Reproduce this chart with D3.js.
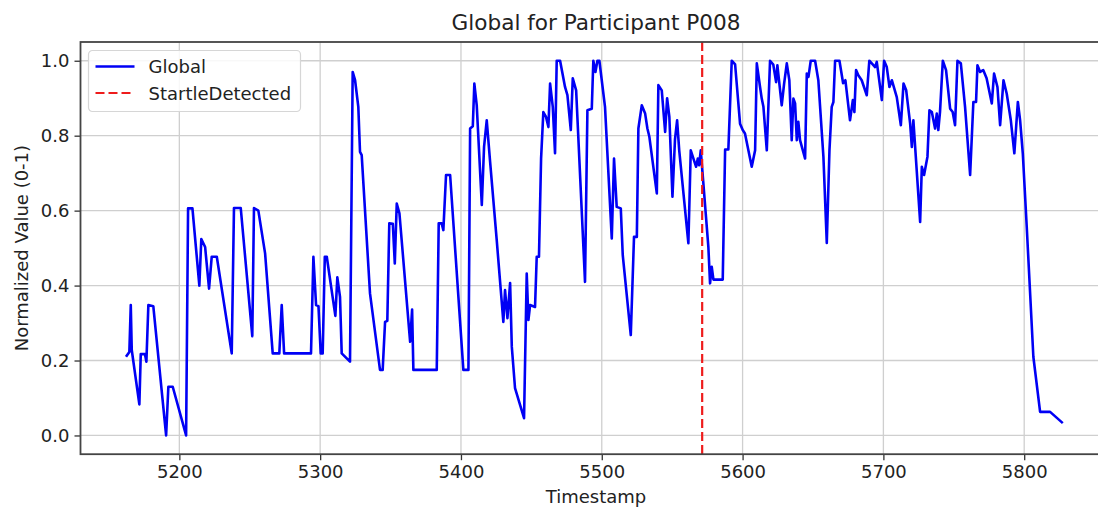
<!DOCTYPE html>
<html>
<head>
<meta charset="utf-8">
<script src="https://cdn.jsdelivr.net/npm/d3@7"></script>
<style>
  html, body { margin: 0; padding: 0; background: #fff; }
  svg { display: block; font-family: "DejaVu Sans", sans-serif; }
</style>
</head>
<body>
<svg id="chart" width="1098" height="510"></svg>
<script>
// Global signal over time for participant P008
const timestamps = [
  5162.1, 5164.5, 5165.5, 5166.2, 5171.6, 5172.6, 5175.6, 5176.6, 5178.0, 5181.5,
  5190.6, 5192.2, 5195.3, 5204.8, 5206.2, 5209.3, 5214.2, 5215.6, 5218.3, 5221.1,
  5223.0, 5226.6, 5237.2, 5238.8, 5243.6, 5251.8, 5253.0, 5256.1, 5260.9, 5266.3,
  5271.0, 5272.7, 5274.4, 5293.5, 5295.2, 5297.1, 5298.8, 5300.4, 5301.8, 5303.3,
  5304.7, 5310.8, 5312.2, 5314.1, 5315.3, 5321.2, 5323.1, 5324.8, 5327.1, 5328.3,
  5329.5, 5335.4, 5342.5, 5344.4, 5346.1, 5347.7, 5349.1, 5351.6, 5353.0, 5354.4,
  5356.3, 5363.9, 5365.3, 5366.2, 5382.8, 5384.2, 5386.3, 5387.5, 5389.4, 5392.3,
  5401.7, 5405.3, 5406.5, 5408.4, 5409.5, 5411.2, 5414.8, 5416.4, 5418.3, 5420.7,
  5425.4, 5430.1, 5431.3, 5433.0, 5434.9, 5436.1, 5438.4, 5444.8, 5446.7, 5447.9,
  5449.1, 5452.6, 5453.8, 5455.4, 5456.9, 5458.5, 5460.4, 5462.1, 5463.3, 5465.2,
  5466.8, 5468.0, 5470.4, 5473.9, 5475.6, 5478.0, 5479.4, 5481.8, 5488.1, 5489.8,
  5492.9, 5494.0, 5495.5, 5496.9, 5498.3, 5502.3, 5507.1, 5508.7, 5510.6, 5513.5,
  5514.9, 5520.6, 5522.9, 5524.9, 5526.0, 5528.4, 5530.8, 5532.4, 5533.8, 5539.1,
  5540.2, 5542.6, 5545.0, 5546.4, 5548.0, 5550.2, 5552.0, 5553.5, 5555.0, 5561.5,
  5563.2, 5565.1, 5567.0, 5568.2, 5569.1, 5570.3, 5575.7, 5576.9, 5578.1, 5579.3,
  5585.9, 5587.6, 5589.9, 5592.3, 5594.7, 5598.2, 5600.1, 5601.7, 5606.5, 5608.9,
  5610.1, 5612.4, 5613.6, 5614.8, 5617.2, 5619.5, 5621.8, 5623.8, 5624.7, 5627.8,
  5629.5, 5631.4, 5633.2, 5634.9, 5636.1, 5637.3, 5638.5, 5639.6, 5640.8, 5644.4,
  5645.6, 5646.8, 5648.4, 5651.5, 5653.8, 5657.4, 5659.8, 5661.7, 5663.3, 5664.5,
  5665.7, 5668.8, 5671.4, 5673.0, 5676.3, 5678.3, 5679.4, 5680.6, 5682.2, 5684.6,
  5688.2, 5690.0, 5692.4, 5694.1, 5695.3, 5698.9, 5700.5, 5702.4, 5704.3, 5706.0,
  5709.5, 5712.4, 5714.3, 5716.2, 5719.0, 5720.2, 5721.3, 5726.1, 5727.3, 5728.9,
  5731.3, 5732.7, 5734.4, 5736.7, 5737.9, 5739.0, 5740.2, 5742.2, 5744.5, 5747.4,
  5749.2, 5750.9, 5752.6, 5755.0, 5758.0, 5761.6, 5763.9, 5765.8, 5766.8, 5768.7,
  5770.9, 5773.3, 5777.0, 5778.6, 5781.0, 5782.9, 5785.3, 5787.6, 5790.5, 5793.0,
  5795.5, 5797.1, 5799.0, 5801.8, 5806.5, 5811.3, 5818.4, 5827.4
];

const globalValues = [
  0.210, 0.223, 0.348, 0.228, 0.083, 0.217, 0.217, 0.197, 0.348, 0.345,
  0.000, 0.130, 0.130, 0.000, 0.606, 0.606, 0.400, 0.524, 0.503, 0.392,
  0.477, 0.477, 0.219, 0.607, 0.607, 0.265, 0.607, 0.600, 0.486, 0.219,
  0.219, 0.348, 0.219, 0.219, 0.477, 0.348, 0.345, 0.219, 0.219, 0.477,
  0.477, 0.319, 0.422, 0.370, 0.219, 0.197, 0.970, 0.948, 0.877, 0.757,
  0.748, 0.379, 0.175, 0.175, 0.303, 0.306, 0.566, 0.565, 0.459, 0.619,
  0.593, 0.250, 0.336, 0.175, 0.175, 0.566, 0.566, 0.548, 0.695, 0.695,
  0.175, 0.175, 0.819, 0.825, 0.939, 0.881, 0.615, 0.770, 0.841, 0.730,
  0.521, 0.303, 0.388, 0.313, 0.407, 0.237, 0.126, 0.046, 0.432, 0.308,
  0.348, 0.343, 0.477, 0.477, 0.739, 0.863, 0.850, 0.823, 0.939, 0.877,
  0.753, 1.000, 1.000, 0.930, 0.908, 0.815, 0.953, 0.921, 0.410, 0.868,
  0.872, 1.000, 0.970, 1.000, 1.000, 0.877, 0.526, 0.739, 0.610, 0.606,
  0.481, 0.268, 0.530, 0.530, 0.819, 0.881, 0.859, 0.819, 0.797, 0.646,
  0.935, 0.921, 0.810, 0.900, 0.850, 0.637, 0.790, 0.841, 0.761, 0.513,
  0.761, 0.739, 0.717, 0.739, 0.721, 0.761, 0.503, 0.406, 0.450, 0.416,
  0.416, 0.763, 0.763, 1.000, 0.990, 0.832, 0.815, 0.806, 0.717, 0.761,
  0.993, 0.930, 0.899, 0.877, 0.761, 1.000, 0.990, 0.943, 0.988, 0.881,
  0.939, 0.993, 0.948, 0.788, 0.899, 0.886, 0.788, 0.837, 0.788, 0.739,
  0.966, 0.957, 1.000, 1.000, 0.948, 0.744, 0.514, 0.761, 0.877, 0.890,
  1.000, 1.000, 0.940, 0.948, 0.841, 0.895, 0.863, 0.975, 0.961, 0.948,
  0.908, 1.000, 0.990, 0.983, 0.997, 0.895, 1.000, 0.983, 0.930, 0.948,
  0.903, 0.828, 0.939, 0.921, 0.832, 0.770, 0.841, 0.570, 0.717, 0.695,
  0.744, 0.868, 0.863, 0.819, 0.859, 0.815, 0.863, 1.000, 0.975, 0.872,
  0.863, 0.828, 1.000, 0.993, 0.877, 0.695, 0.890, 0.890, 0.988, 0.970,
  0.975, 0.953, 0.886, 0.966, 0.930, 0.828, 0.948, 0.912, 0.841, 0.753,
  0.890, 0.841, 0.753, 0.557, 0.210, 0.063, 0.063, 0.033
];

const startleTimestamp = 5571.3;

const xTicks = [5200, 5300, 5400, 5500, 5600, 5700, 5800];
const yTicks = [0.0, 0.2, 0.4, 0.6, 0.8, 1.0];

const chartTitle = "Global for Participant P008";
const xLabel = "Timestamp";
const yLabel = "Normalized Value (0-1)";
const legendLabels = ["Global", "StartleDetected"];

// ---- layout ----
const plot = { left: 80.5, right: 1111.5, top: 42, bottom: 454.2 };
const fontSize = 18;

const svg = d3.select("#chart");

const x = d3.scaleLinear().domain([5129.8, 5862]).range([plot.left, plot.right]);
const y = d3.scaleLinear().domain([-0.05, 1.05]).range([plot.bottom, plot.top]);

svg.append("defs").append("clipPath").attr("id", "plot-clip")
  .append("rect")
  .attr("x", plot.left).attr("y", plot.top)
  .attr("width", plot.right - plot.left).attr("height", plot.bottom - plot.top);

// grid
const grid = svg.append("g").attr("class", "grid");
grid.selectAll("line.gx").data(xTicks).join("line")
  .attr("x1", d => x(d)).attr("x2", d => x(d))
  .attr("y1", plot.top).attr("y2", plot.bottom)
  .attr("stroke", "#cfcfcf").attr("stroke-width", 1.3);
grid.selectAll("line.gy").data(yTicks).join("line")
  .attr("x1", plot.left).attr("x2", plot.right)
  .attr("y1", d => y(d)).attr("y2", d => y(d))
  .attr("stroke", "#cfcfcf").attr("stroke-width", 1.3);

// data line
const series = timestamps.map((t, i) => [t, globalValues[i]]);
const line = d3.line().x(d => x(d[0])).y(d => y(d[1]));

const marks = svg.append("g").attr("clip-path", "url(#plot-clip)");
marks.append("path")
  .datum(series)
  .attr("d", line)
  .attr("fill", "none")
  .attr("stroke", "#0000f5")
  .attr("stroke-width", 2.6)
  .attr("stroke-linejoin", "round")
  .attr("stroke-linecap", "butt");

// startle marker
marks.append("line")
  .attr("x1", x(startleTimestamp)).attr("x2", x(startleTimestamp))
  .attr("y1", plot.top).attr("y2", plot.bottom)
  .attr("stroke", "#ee1c1c")
  .attr("stroke-width", 2.2)
  .attr("stroke-dasharray", "9,4");

// axes
const xAxis = d3.axisBottom(x).tickValues(xTicks).tickFormat(d3.format("d"))
  .tickSize(6).tickPadding(5);
const yAxis = d3.axisLeft(y).tickValues(yTicks).tickFormat(d3.format(".1f"))
  .tickSize(6).tickPadding(5);

const gx = svg.append("g").attr("transform", `translate(0,${plot.bottom})`).call(xAxis);
const gy = svg.append("g").attr("transform", `translate(${plot.left},0)`).call(yAxis);
[gx, gy].forEach(g => {
  g.select(".domain").remove();
  g.selectAll(".tick line").attr("stroke", "#333").attr("stroke-width", 1.3);
  g.selectAll(".tick text")
    .attr("fill", "#222")
    .style("font-family", "DejaVu Sans")
    .style("font-size", fontSize + "px");
});

// spines
svg.append("rect")
  .attr("x", plot.left).attr("y", plot.top)
  .attr("width", plot.right - plot.left).attr("height", plot.bottom - plot.top)
  .attr("fill", "none").attr("stroke", "#444").attr("stroke-width", 1.8);

// title and labels
svg.append("text")
  .attr("x", (plot.left + plot.right) / 2).attr("y", 30)
  .attr("text-anchor", "middle")
  .attr("fill", "#222")
  .style("font-size", (fontSize * 1.2) + "px")
  .text(chartTitle);

svg.append("text")
  .attr("x", (plot.left + plot.right) / 2).attr("y", 503)
  .attr("text-anchor", "middle")
  .attr("fill", "#222")
  .style("font-size", fontSize + "px")
  .text(xLabel);

svg.append("text")
  .attr("transform", `translate(28,${(plot.top + plot.bottom) / 2}) rotate(-90)`)
  .attr("text-anchor", "middle")
  .attr("fill", "#222")
  .style("font-size", fontSize + "px")
  .text(yLabel);

// legend
const legend = svg.append("g").attr("transform", "translate(88.5,50.5)");
legend.append("rect")
  .attr("width", 212).attr("height", 61).attr("rx", 4)
  .attr("fill", "#fff").attr("fill-opacity", 0.85)
  .attr("stroke", "#d6d6d6").attr("stroke-width", 1.2);

const legendStyles = [
  { color: "#0000f5", dash: null, width: 2.6 },
  { color: "#ee1c1c", dash: "9,4", width: 2.2 }
];
legendLabels.forEach((label, i) => {
  const cy = 16 + i * 26.5;
  legend.append("line")
    .attr("x1", 7).attr("x2", 46).attr("y1", cy).attr("y2", cy)
    .attr("stroke", legendStyles[i].color)
    .attr("stroke-width", legendStyles[i].width)
    .attr("stroke-dasharray", legendStyles[i].dash);
  legend.append("text")
    .attr("x", 60).attr("y", cy + 6.5)
    .attr("fill", "#222")
    .style("font-size", fontSize + "px")
    .text(label);
});
</script>
</body>
</html>
